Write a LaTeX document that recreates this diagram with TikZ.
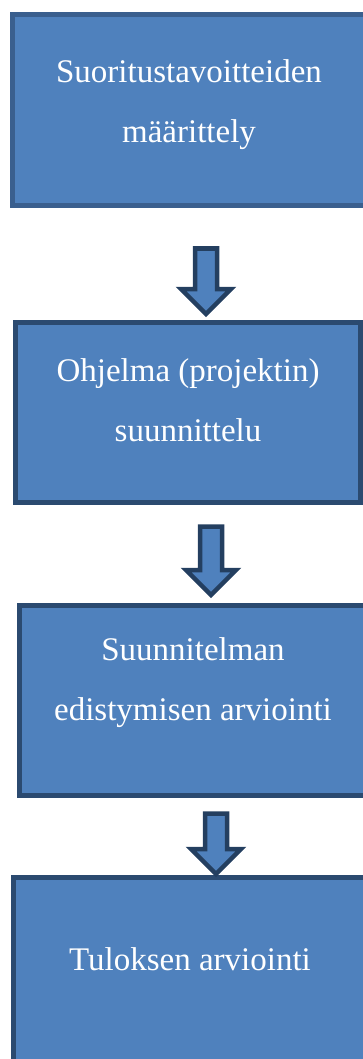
\documentclass[tikz,border=0pt]{standalone}
\usepackage{fontspec}
\setmainfont{Liberation Serif}
\usetikzlibrary{calc}

\definecolor{boxblue}{HTML}{4F81BD}
\definecolor{boxedge}{HTML}{2B4A70}
\definecolor{topedge}{HTML}{3A5F8E}
\definecolor{arrowedge}{HTML}{243F60}

\begin{document}
\begin{tikzpicture}[x=1pt,y=-1pt]
            % Block styles
            \tikzset{
                box/.style={rectangle, draw=boxedge, fill=boxblue, line width=5pt, outer sep=0pt, inner sep=0pt},
                boxtext/.style={text=white, align=center, font=\fontsize{33}{60}\selectfont},
                blockarrow/.style={draw=arrowedge, fill=boxblue, line width=4.5pt, line join=miter},
                pics/downarrow/.style={code={
                    \draw[blockarrow] (-11,0) -- (-11,#1) -- (-25,#1) -- (0,{#1+25}) -- (25,#1) -- (11,#1) -- (11,0) -- cycle;
                }}
            }
            \useasboundingbox (0,0) rectangle (362,1059);
            % Boxes
            \node[box, draw=topedge, minimum width=353pt, minimum height=191pt] (goals) at (189,110) {};
            \node[box, minimum width=344.5pt, minimum height=180pt] (planning) at (188,412.5) {};
            \node[box, minimum width=347pt, minimum height=190pt] (progress) at (193,700) {};
            \node[box, minimum width=353pt, minimum height=199pt] (result) at (190,977) {};
            % Texts
            \node[boxtext, yshift=5pt] (goalstext) at (goals) {Suoritustavoitteiden\\määrittely};
            \node[boxtext, yshift=12.5pt] (planningtext) at (planning) {Ohjelma (projektin)\\suunnittelu};
            \node[boxtext, yshift=17pt] (progresstext) at (progress) {Suunnitelman\\edistymisen arviointi};
            \node[boxtext, yshift=18pt] (resulttext) at (result) {Tuloksen arviointi};
            % Arrows
            \path (goals.south) ++(17,43) pic {downarrow=40.5};
            \path (planning.south) ++(23,24) pic {downarrow=43.5};
            \path (progress.south) ++(23,18.5) pic {downarrow=35.5};
        \end{tikzpicture}
\end{document}
